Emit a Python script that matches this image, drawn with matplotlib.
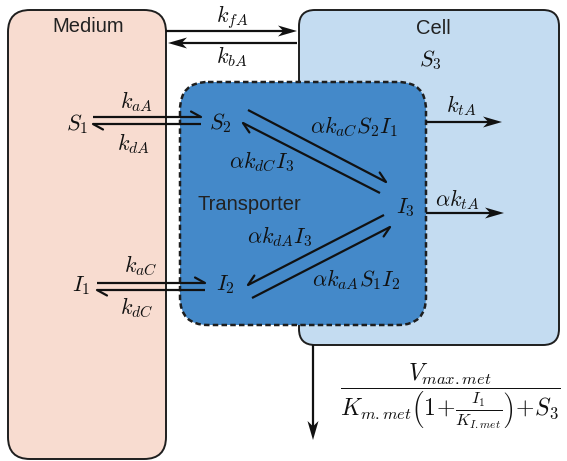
import numpy as np
import matplotlib
matplotlib.use("Agg")
import matplotlib.pyplot as plt
from matplotlib.patches import FancyBboxPatch, Polygon

plt.rcParams['mathtext.fontset'] = 'cm'
plt.rcParams['font.family'] = ['Liberation Sans', 'DejaVu Sans']

# compartments: (x0, y0, x1, y1) in pixel units, y downwards
medium_box = (8, 10, 166, 459)
cell_box = (299, 10, 559, 345)
trans_box = (180, 82, 426, 325)

# species and rate labels
species = {"S_1": (77, 124), "S_2": (220, 123), "I_1": (81, 286),
           "I_2": (225, 285), "I_3": (405, 208), "S_3": (430, 60)}
rate_labels = [
    (r"$k_{fA}$", 232, 17), (r"$k_{bA}$", 232, 57),
    (r"$k_{aA}$", 137, 102), (r"$k_{dA}$", 133, 144),
    (r"$k_{aC}$", 141, 266), (r"$k_{dC}$", 137, 308),
    (r"$\alpha k_{aC}S_2I_1$", 354, 127), (r"$\alpha k_{dC}I_3$", 262, 162),
    (r"$\alpha k_{dA}I_3$", 280, 237), (r"$\alpha k_{aA}S_1I_2$", 356, 280),
    (r"$k_{tA}$", 461, 106), (r"$\alpha k_{tA}$", 457, 200),
]
metab_rate = r"$\dfrac{V_{max.met}}{K_{m.met}\left(1\!+\!\frac{I_1}{K_{I.met}}\right)\!+\!S_3}$"

# full arrows (x0, y0, x1, y1)
arrows = [(166, 31, 297, 31), (297, 43, 168, 43),
          (426, 122, 502, 122), (426, 213, 504, 213),
          (313, 345, 313, 440)]
# harpoons (x0, y0, x1, y1, side)
harpoons = [(93, 117, 201, 117, 1), (201, 124, 93, 124, 1),
            (97, 283, 205, 283, 1), (205, 290, 97, 290, 1),
            (248, 110, 386, 182, 1), (380, 193, 243, 123, 1),
            (384, 215, 248, 285, -1), (252, 298, 390, 227, -1)]

fig = plt.figure(figsize=(5.67, 4.61), dpi=100)
ax = fig.add_axes([0, 0, 1, 1])
ax.set_xlim(0, 567)
ax.set_ylim(461, 0)
ax.axis("off")


def box(b, fc, r, ls="-", lw=1.4, z=1):
    x0, y0, x1, y1 = b
    p = FancyBboxPatch((x0, y0), x1 - x0, y1 - y0,
                       boxstyle=f"round,pad=0,rounding_size={r}",
                       fc=fc, ec="#1e1e1e", lw=lw, ls=ls, zorder=z)
    ax.add_patch(p)


box(medium_box, "#f8dcd0", 22)
box(cell_box, "#c4dcf1", 16)
box(trans_box, "#4489c9", 28, ls=(0, (2.2, 1.3)), lw=1.8, z=2)

ax.text(88, 27, "Medium", ha="center", va="center", fontsize=14.5, color="#222222")
ax.text(433, 28, "Cell", ha="center", va="center", fontsize=14.5, color="#222222")
ax.text(249, 204, "Transporter", ha="center", va="center", fontsize=14.5, color="#222222", zorder=5)


def arrow(x0, y0, x1, y1):
    d = np.array([x1 - x0, y1 - y0], float)
    d /= np.hypot(*d)
    n = np.array([d[1], -d[0]])
    tip = np.array([x1, y1], float)
    L, w = 19, 5.5
    base = tip - L * d
    ax.plot([x0, tip[0] - 8 * d[0]], [y0, tip[1] - 8 * d[1]], color="#111111", lw=1.6,
            solid_capstyle="butt", zorder=6)
    pts = [tip, base + w * n, tip - 0.72 * L * d, base - w * n]
    ax.add_patch(Polygon(pts, closed=True, fc="#111111", ec="none", zorder=6))


def harpoon(x0, y0, x1, y1, side):
    d = np.array([x1 - x0, y1 - y0], float)
    d /= np.hypot(*d)
    n = side * np.array([d[1], -d[0]])
    tip = np.array([x1, y1], float)
    barb = tip - 10 * d + 5.5 * n
    ax.plot([x0, x1], [y0, y1], color="#111111", lw=1.6, solid_capstyle="butt", zorder=6)
    ax.plot([tip[0], barb[0]], [tip[1], barb[1]], color="#111111", lw=1.6,
            solid_capstyle="round", zorder=6)


for a in arrows:
    arrow(*a)
for h in harpoons:
    harpoon(*h)

for name, (x, y) in species.items():
    ax.text(x, y, f"${name}$", ha="center", va="center", fontsize=16, color="#111111", zorder=7)
for s, x, y in rate_labels:
    ax.text(x, y, s, ha="center", va="center", fontsize=16, color="#111111", zorder=7)

ax.text(450, 396, metab_rate, ha="center", va="center", fontsize=17, color="#111111", zorder=7)

fig.savefig("out.png", dpi=100)
